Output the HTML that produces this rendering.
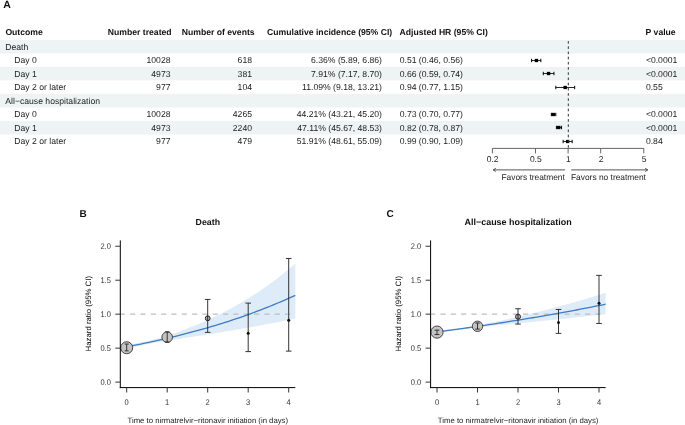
<!DOCTYPE html>
<html><head><meta charset="utf-8"><style>
html,body{margin:0;padding:0;background:#fff;}
body{width:685px;height:425px;overflow:hidden;}
svg{display:block;will-change:transform;}
text{font-family:"Liberation Sans",sans-serif;text-rendering:geometricPrecision;}
</style></head><body>
<svg width="685" height="425" viewBox="0 0 685 425">
<text x="3.20" y="7.60" font-size="10.5" font-weight="bold" text-anchor="start" fill="#111" >A</text>
<rect x="0" y="39.90" width="685" height="13.5" fill="#eef3f3"/>
<rect x="0" y="66.90" width="685" height="13.5" fill="#eef3f3"/>
<rect x="0" y="93.90" width="685" height="13.5" fill="#eef3f3"/>
<rect x="0" y="120.90" width="685" height="13.5" fill="#eef3f3"/>
<text x="5.40" y="35.30" font-size="8.65" font-weight="bold" text-anchor="start" fill="#111" >Outcome</text>
<text x="171.60" y="35.30" font-size="8.65" font-weight="bold" text-anchor="end" fill="#111" >Number treated</text>
<text x="254.60" y="35.30" font-size="8.65" font-weight="bold" text-anchor="end" fill="#111" >Number of events</text>
<text x="392.20" y="35.30" font-size="8.65" font-weight="bold" text-anchor="end" fill="#111" >Cumulative incidence (95% CI)</text>
<text x="399.60" y="35.30" font-size="8.65" font-weight="bold" text-anchor="start" fill="#111" >Adjusted HR (95% CI)</text>
<text x="645.60" y="35.30" font-size="8.65" font-weight="bold" text-anchor="start" fill="#111" >P value</text>
<text x="5.30" y="49.75" font-size="8.65" text-anchor="start" fill="#222" >Death</text>
<text x="14.30" y="63.25" font-size="8.65" text-anchor="start" fill="#222" >Day 0</text>
<text x="170.50" y="63.25" font-size="8.65" text-anchor="end" fill="#222" >10028</text>
<text x="252.00" y="63.25" font-size="8.65" text-anchor="end" fill="#222" >618</text>
<text x="382.00" y="63.25" font-size="8.65" text-anchor="end" fill="#222" >6.36% (5.89, 6.86)</text>
<text x="399.70" y="63.25" font-size="8.65" text-anchor="start" fill="#222" >0.51 (0.46, 0.56)</text>
<text x="645.90" y="63.25" font-size="8.65" text-anchor="start" fill="#222" >&lt;0.0001</text>
<line x1="531.58" y1="60.50" x2="540.83" y2="60.50" stroke="#222" stroke-width="0.95"/>
<line x1="531.58" y1="58.80" x2="531.58" y2="62.20" stroke="#000" stroke-width="1"/>
<line x1="540.83" y1="58.80" x2="540.83" y2="62.20" stroke="#000" stroke-width="1"/>
<rect x="534.73" y="58.85" width="3.4" height="3.3" fill="#000"/>
<text x="14.30" y="76.75" font-size="8.65" text-anchor="start" fill="#222" >Day 1</text>
<text x="170.50" y="76.75" font-size="8.65" text-anchor="end" fill="#222" >4973</text>
<text x="252.00" y="76.75" font-size="8.65" text-anchor="end" fill="#222" >381</text>
<text x="382.00" y="76.75" font-size="8.65" text-anchor="end" fill="#222" >7.91% (7.17, 8.70)</text>
<text x="399.70" y="76.75" font-size="8.65" text-anchor="start" fill="#222" >0.66 (0.59, 0.74)</text>
<text x="645.90" y="76.75" font-size="8.65" text-anchor="start" fill="#222" >&lt;0.0001</text>
<line x1="543.29" y1="73.50" x2="553.94" y2="73.50" stroke="#222" stroke-width="0.95"/>
<line x1="543.29" y1="71.80" x2="543.29" y2="75.20" stroke="#000" stroke-width="1"/>
<line x1="553.94" y1="71.80" x2="553.94" y2="75.20" stroke="#000" stroke-width="1"/>
<rect x="546.86" y="71.85" width="3.4" height="3.3" fill="#000"/>
<text x="14.30" y="90.25" font-size="8.65" text-anchor="start" fill="#222" >Day 2 or later</text>
<text x="170.50" y="90.25" font-size="8.65" text-anchor="end" fill="#222" >977</text>
<text x="252.00" y="90.25" font-size="8.65" text-anchor="end" fill="#222" >104</text>
<text x="382.00" y="90.25" font-size="8.65" text-anchor="end" fill="#222" >11.09% (9.18, 13.21)</text>
<text x="399.70" y="90.25" font-size="8.65" text-anchor="start" fill="#222" >0.94 (0.77, 1.15)</text>
<text x="645.90" y="90.25" font-size="8.65" text-anchor="start" fill="#222" >0.55</text>
<line x1="555.81" y1="87.50" x2="574.67" y2="87.50" stroke="#222" stroke-width="0.95"/>
<line x1="555.81" y1="85.80" x2="555.81" y2="89.20" stroke="#000" stroke-width="1"/>
<line x1="574.67" y1="85.80" x2="574.67" y2="89.20" stroke="#000" stroke-width="1"/>
<rect x="563.49" y="85.85" width="3.4" height="3.3" fill="#000"/>
<text x="5.30" y="103.75" font-size="8.65" text-anchor="start" fill="#222" >All&#8722;cause hospitalization</text>
<text x="14.30" y="117.25" font-size="8.65" text-anchor="start" fill="#222" >Day 0</text>
<text x="170.50" y="117.25" font-size="8.65" text-anchor="end" fill="#222" >10028</text>
<text x="252.00" y="117.25" font-size="8.65" text-anchor="end" fill="#222" >4265</text>
<text x="382.00" y="117.25" font-size="8.65" text-anchor="end" fill="#222" >44.21% (43.21, 45.20)</text>
<text x="399.70" y="117.25" font-size="8.65" text-anchor="start" fill="#222" >0.73 (0.70, 0.77)</text>
<text x="645.90" y="117.25" font-size="8.65" text-anchor="start" fill="#222" >&lt;0.0001</text>
<line x1="551.33" y1="114.50" x2="555.81" y2="114.50" stroke="#222" stroke-width="0.95"/>
<line x1="551.33" y1="112.80" x2="551.33" y2="116.20" stroke="#000" stroke-width="1"/>
<line x1="555.81" y1="112.80" x2="555.81" y2="116.20" stroke="#000" stroke-width="1"/>
<rect x="551.60" y="112.85" width="3.4" height="3.3" fill="#000"/>
<text x="14.30" y="130.75" font-size="8.65" text-anchor="start" fill="#222" >Day 1</text>
<text x="170.50" y="130.75" font-size="8.65" text-anchor="end" fill="#222" >4973</text>
<text x="252.00" y="130.75" font-size="8.65" text-anchor="end" fill="#222" >2240</text>
<text x="382.00" y="130.75" font-size="8.65" text-anchor="end" fill="#222" >47.11% (45.67, 48.53)</text>
<text x="399.70" y="130.75" font-size="8.65" text-anchor="start" fill="#222" >0.82 (0.78, 0.87)</text>
<text x="645.90" y="130.75" font-size="8.65" text-anchor="start" fill="#222" >&lt;0.0001</text>
<line x1="556.41" y1="127.50" x2="561.55" y2="127.50" stroke="#222" stroke-width="0.95"/>
<line x1="556.41" y1="125.80" x2="556.41" y2="129.20" stroke="#000" stroke-width="1"/>
<line x1="561.55" y1="125.80" x2="561.55" y2="129.20" stroke="#000" stroke-width="1"/>
<rect x="557.07" y="125.85" width="3.4" height="3.3" fill="#000"/>
<text x="14.30" y="144.25" font-size="8.65" text-anchor="start" fill="#222" >Day 2 or later</text>
<text x="170.50" y="144.25" font-size="8.65" text-anchor="end" fill="#222" >977</text>
<text x="252.00" y="144.25" font-size="8.65" text-anchor="end" fill="#222" >479</text>
<text x="382.00" y="144.25" font-size="8.65" text-anchor="end" fill="#222" >51.91% (48.61, 55.09)</text>
<text x="399.70" y="144.25" font-size="8.65" text-anchor="start" fill="#222" >0.99 (0.90, 1.09)</text>
<text x="645.90" y="144.25" font-size="8.65" text-anchor="start" fill="#222" >0.84</text>
<line x1="563.14" y1="141.50" x2="572.15" y2="141.50" stroke="#222" stroke-width="0.95"/>
<line x1="563.14" y1="139.80" x2="563.14" y2="143.20" stroke="#000" stroke-width="1"/>
<line x1="572.15" y1="139.80" x2="572.15" y2="143.20" stroke="#000" stroke-width="1"/>
<rect x="565.93" y="139.85" width="3.4" height="3.3" fill="#000"/>
<line x1="568.30" y1="41.10" x2="568.30" y2="148" stroke="#333" stroke-width="1" stroke-dasharray="2.6 2.6"/>
<line x1="492.41" y1="148.4" x2="643.79" y2="148.4" stroke="#555" stroke-width="0.9"/>
<line x1="492.41" y1="148.4" x2="492.41" y2="153.4" stroke="#555" stroke-width="0.9"/>
<text x="492.71" y="161.80" font-size="8.5" text-anchor="middle" fill="#222" >0.2</text>
<line x1="535.50" y1="148.4" x2="535.50" y2="153.4" stroke="#555" stroke-width="0.9"/>
<text x="535.80" y="161.80" font-size="8.5" text-anchor="middle" fill="#222" >0.5</text>
<line x1="568.10" y1="148.4" x2="568.10" y2="153.4" stroke="#555" stroke-width="0.9"/>
<text x="568.40" y="161.80" font-size="8.5" text-anchor="middle" fill="#222" >1</text>
<line x1="600.70" y1="148.4" x2="600.70" y2="153.4" stroke="#555" stroke-width="0.9"/>
<text x="601.00" y="161.80" font-size="8.5" text-anchor="middle" fill="#222" >2</text>
<line x1="643.79" y1="148.4" x2="643.79" y2="153.4" stroke="#555" stroke-width="0.9"/>
<text x="644.09" y="161.80" font-size="8.5" text-anchor="middle" fill="#222" >5</text>
<line x1="565.10" y1="169.9" x2="493.20" y2="169.9" stroke="#555" stroke-width="1"/>
<polyline points="495.80,168.3 493.20,169.9 495.80,171.5" fill="none" stroke="#444" stroke-width="0.9"/>
<line x1="571.20" y1="169.9" x2="647.80" y2="169.9" stroke="#555" stroke-width="1"/>
<polyline points="645.20,168.3 647.80,169.9 645.20,171.5" fill="none" stroke="#444" stroke-width="0.9"/>
<text x="564.80" y="180.10" font-size="8.4" text-anchor="end" fill="#222" >Favors treatment</text>
<text x="571.00" y="180.10" font-size="8.4" text-anchor="start" fill="#222" >Favors no treatment</text>
<text x="79.40" y="217.10" font-size="10" font-weight="bold" text-anchor="start" fill="#111" >B</text>
<text x="207.80" y="224.90" font-size="8.8" font-weight="bold" text-anchor="middle" fill="#111" >Death</text>
<polygon points="126.70,344.70 129.51,344.29 132.32,343.86 135.13,343.42 137.94,342.95 140.75,342.44 143.56,341.90 146.37,341.32 149.18,340.69 151.99,340.02 154.80,339.30 157.61,338.54 160.42,337.75 163.23,336.91 166.04,336.04 168.85,335.15 171.66,334.22 174.47,333.26 177.28,332.28 180.09,331.28 182.90,330.24 185.71,329.18 188.52,328.10 191.33,326.99 194.14,325.85 196.95,324.69 199.76,323.50 202.57,322.29 205.38,321.05 208.19,319.78 211.00,318.48 213.81,317.16 216.62,315.80 219.43,314.42 222.24,313.01 225.05,311.56 227.86,310.09 230.67,308.58 233.48,307.05 236.29,305.48 239.10,303.87 241.91,302.24 244.72,300.56 247.53,298.85 250.34,297.11 253.15,295.33 255.96,293.51 258.77,291.65 261.58,289.76 264.39,287.82 267.20,285.84 270.01,283.82 272.82,281.76 275.63,279.65 278.44,277.50 281.25,275.31 284.06,273.06 286.87,270.77 289.68,268.44 292.49,266.05 295.30,263.61 295.30,318.50 292.49,319.08 289.68,319.65 286.87,320.22 284.06,320.79 281.25,321.35 278.44,321.91 275.63,322.46 272.82,323.01 270.01,323.55 267.20,324.08 264.39,324.62 261.58,325.14 258.77,325.67 255.96,326.18 253.15,326.70 250.34,327.21 247.53,327.71 244.72,328.21 241.91,328.71 239.10,329.20 236.29,329.69 233.48,330.17 230.67,330.65 227.86,331.12 225.05,331.60 222.24,332.06 219.43,332.53 216.62,332.99 213.81,333.45 211.00,333.90 208.19,334.35 205.38,334.80 202.57,335.24 199.76,335.68 196.95,336.12 194.14,336.56 191.33,336.99 188.52,337.42 185.71,337.85 182.90,338.28 180.09,338.71 177.28,339.14 174.47,339.57 171.66,340.00 168.85,340.44 166.04,340.88 163.23,341.33 160.42,341.79 157.61,342.26 154.80,342.75 151.99,343.27 149.18,343.80 146.37,344.36 143.56,344.94 140.75,345.55 137.94,346.17 135.13,346.81 132.32,347.45 129.51,348.10 126.70,348.74" fill="#deebf8"/>
<line x1="120.30" y1="314.17" x2="295.30" y2="314.17" stroke="#bdbdbd" stroke-width="1.1" stroke-dasharray="5.1 5.23" stroke-dashoffset="0.5"/>
<polyline points="126.70,346.78 129.51,346.24 132.32,345.70 135.13,345.15 137.94,344.59 140.75,344.03 143.56,343.45 146.37,342.87 149.18,342.28 151.99,341.68 154.80,341.07 157.61,340.45 160.42,339.82 163.23,339.18 166.04,338.53 168.85,337.87 171.66,337.20 174.47,336.53 177.28,335.84 180.09,335.14 182.90,334.43 185.71,333.71 188.52,332.98 191.33,332.24 194.14,331.49 196.95,330.72 199.76,329.95 202.57,329.16 205.38,328.36 208.19,327.55 211.00,326.72 213.81,325.89 216.62,325.04 219.43,324.18 222.24,323.30 225.05,322.41 227.86,321.51 230.67,320.60 233.48,319.67 236.29,318.73 239.10,317.77 241.91,316.80 244.72,315.81 247.53,314.81 250.34,313.80 253.15,312.76 255.96,311.72 258.77,310.66 261.58,309.58 264.39,308.48 267.20,307.37 270.01,306.24 272.82,305.10 275.63,303.93 278.44,302.75 281.25,301.55 284.06,300.34 286.87,299.10 289.68,297.85 292.49,296.58 295.30,295.29" fill="none" stroke="#3d7cc6" stroke-width="1.3"/>
<circle cx="126.70" cy="347.73" r="6" fill="#c4c4c4" stroke="#333" stroke-width="0.9"/>
<line x1="126.70" y1="350.85" x2="126.70" y2="344.06" stroke="#2a2a2a" stroke-width="0.95"/>
<line x1="124.70" y1="350.85" x2="128.70" y2="350.85" stroke="#2a2a2a" stroke-width="0.95"/>
<line x1="124.70" y1="344.06" x2="128.70" y2="344.06" stroke="#2a2a2a" stroke-width="0.95"/>
<circle cx="167.20" cy="337.20" r="5.3" fill="#c4c4c4" stroke="#333" stroke-width="0.9"/>
<line x1="167.20" y1="342.02" x2="167.20" y2="331.83" stroke="#2a2a2a" stroke-width="0.95"/>
<line x1="164.95" y1="342.02" x2="169.45" y2="342.02" stroke="#2a2a2a" stroke-width="0.95"/>
<line x1="164.95" y1="331.83" x2="169.45" y2="331.83" stroke="#2a2a2a" stroke-width="0.95"/>
<line x1="207.70" y1="332.38" x2="207.70" y2="299.43" stroke="#2a2a2a" stroke-width="0.95"/>
<line x1="204.90" y1="332.38" x2="210.50" y2="332.38" stroke="#2a2a2a" stroke-width="0.95"/>
<line x1="204.90" y1="299.43" x2="210.50" y2="299.43" stroke="#2a2a2a" stroke-width="0.95"/>
<circle cx="207.70" cy="318.31" r="2.4" fill="#b8b8b8" stroke="#222" stroke-width="1"/>
<line x1="207.70" y1="315.91" x2="207.70" y2="320.71" stroke="#222" stroke-width="1"/>
<line x1="248.20" y1="351.60" x2="248.20" y2="303.10" stroke="#2a2a2a" stroke-width="0.95"/>
<line x1="245.40" y1="351.60" x2="251.00" y2="351.60" stroke="#2a2a2a" stroke-width="0.95"/>
<line x1="245.40" y1="303.10" x2="251.00" y2="303.10" stroke="#2a2a2a" stroke-width="0.95"/>
<circle cx="248.20" cy="333.33" r="1.5" fill="#111"/>
<line x1="288.70" y1="351.12" x2="288.70" y2="258.47" stroke="#2a2a2a" stroke-width="0.95"/>
<line x1="285.90" y1="351.12" x2="291.50" y2="351.12" stroke="#2a2a2a" stroke-width="0.95"/>
<line x1="285.90" y1="258.47" x2="291.50" y2="258.47" stroke="#2a2a2a" stroke-width="0.95"/>
<circle cx="288.70" cy="320.28" r="1.5" fill="#111"/>
<line x1="120.30" y1="240.4" x2="120.30" y2="388.1" stroke="#000" stroke-width="1"/>
<line x1="119.80" y1="387.6" x2="295.30" y2="387.6" stroke="#000" stroke-width="1"/>
<line x1="115.30" y1="382.10" x2="120.30" y2="382.10" stroke="#333" stroke-width="1"/>
<text x="110.90" y="384.80" font-size="7.5" text-anchor="end" fill="#333" transform="translate(0,382.10) scale(1,1.1) translate(0,-382.10)">0.0</text>
<line x1="115.30" y1="348.13" x2="120.30" y2="348.13" stroke="#333" stroke-width="1"/>
<text x="110.90" y="350.83" font-size="7.5" text-anchor="end" fill="#333" transform="translate(0,348.13) scale(1,1.1) translate(0,-348.13)">0.5</text>
<line x1="115.30" y1="314.17" x2="120.30" y2="314.17" stroke="#333" stroke-width="1"/>
<text x="110.90" y="316.87" font-size="7.5" text-anchor="end" fill="#333" transform="translate(0,314.17) scale(1,1.1) translate(0,-314.17)">1.0</text>
<line x1="115.30" y1="280.21" x2="120.30" y2="280.21" stroke="#333" stroke-width="1"/>
<text x="110.90" y="282.91" font-size="7.5" text-anchor="end" fill="#333" transform="translate(0,280.21) scale(1,1.1) translate(0,-280.21)">1.5</text>
<line x1="115.30" y1="246.24" x2="120.30" y2="246.24" stroke="#333" stroke-width="1"/>
<text x="110.90" y="248.94" font-size="7.5" text-anchor="end" fill="#333" transform="translate(0,246.24) scale(1,1.1) translate(0,-246.24)">2.0</text>
<line x1="126.70" y1="387.6" x2="126.70" y2="392.5" stroke="#333" stroke-width="1"/>
<text x="126.70" y="404.70" font-size="7.5" text-anchor="middle" fill="#333" transform="translate(0,402.0) scale(1,1.1) translate(0,-402.0)">0</text>
<line x1="167.20" y1="387.6" x2="167.20" y2="392.5" stroke="#333" stroke-width="1"/>
<text x="167.20" y="404.70" font-size="7.5" text-anchor="middle" fill="#333" transform="translate(0,402.0) scale(1,1.1) translate(0,-402.0)">1</text>
<line x1="207.70" y1="387.6" x2="207.70" y2="392.5" stroke="#333" stroke-width="1"/>
<text x="207.70" y="404.70" font-size="7.5" text-anchor="middle" fill="#333" transform="translate(0,402.0) scale(1,1.1) translate(0,-402.0)">2</text>
<line x1="248.20" y1="387.6" x2="248.20" y2="392.5" stroke="#333" stroke-width="1"/>
<text x="248.20" y="404.70" font-size="7.5" text-anchor="middle" fill="#333" transform="translate(0,402.0) scale(1,1.1) translate(0,-402.0)">3</text>
<line x1="288.70" y1="387.6" x2="288.70" y2="392.5" stroke="#333" stroke-width="1"/>
<text x="288.70" y="404.70" font-size="7.5" text-anchor="middle" fill="#333" transform="translate(0,402.0) scale(1,1.1) translate(0,-402.0)">4</text>
<text x="207.80" y="423.10" font-size="7.76" text-anchor="middle" fill="#222" >Time to nirmatrelvir&#8722;ritonavir initiation (in days)</text>
<text x="0" y="0" font-size="7.8" text-anchor="middle" transform="translate(90.90,313.70) rotate(-90)">Hazard ratio (95% CI)</text>
<text x="386.60" y="217.10" font-size="10" font-weight="bold" text-anchor="start" fill="#111" >C</text>
<text x="518.10" y="224.90" font-size="8.95" font-weight="bold" text-anchor="middle" fill="#111" >All&#8722;cause hospitalization</text>
<polygon points="437.00,330.48 439.81,330.22 442.62,329.96 445.43,329.69 448.24,329.41 451.05,329.12 453.86,328.81 456.67,328.49 459.48,328.15 462.29,327.78 465.10,327.38 467.91,326.95 470.72,326.49 473.53,326.00 476.34,325.50 479.15,324.98 481.96,324.44 484.77,323.89 487.58,323.33 490.39,322.76 493.20,322.18 496.01,321.59 498.82,321.00 501.63,320.39 504.44,319.78 507.25,319.16 510.06,318.54 512.87,317.90 515.68,317.26 518.49,316.62 521.30,315.96 524.11,315.30 526.92,314.63 529.73,313.96 532.54,313.28 535.35,312.59 538.16,311.89 540.97,311.19 543.78,310.47 546.59,309.76 549.40,309.03 552.21,308.30 555.02,307.55 557.83,306.81 560.64,306.05 563.45,305.28 566.26,304.51 569.07,303.73 571.88,302.95 574.69,302.15 577.50,301.35 580.31,300.53 583.12,299.71 585.93,298.88 588.74,298.05 591.55,297.20 594.36,296.35 597.17,295.48 599.98,294.61 602.79,293.73 605.60,292.84 605.60,314.15 602.79,314.47 599.98,314.79 597.17,315.10 594.36,315.41 591.55,315.72 588.74,316.03 585.93,316.34 583.12,316.65 580.31,316.95 577.50,317.26 574.69,317.56 571.88,317.86 569.07,318.16 566.26,318.46 563.45,318.76 560.64,319.05 557.83,319.35 555.02,319.64 552.21,319.93 549.40,320.22 546.59,320.51 543.78,320.80 540.97,321.09 538.16,321.37 535.35,321.66 532.54,321.94 529.73,322.23 526.92,322.51 524.11,322.79 521.30,323.07 518.49,323.35 515.68,323.63 512.87,323.91 510.06,324.18 507.25,324.46 504.44,324.74 501.63,325.01 498.82,325.29 496.01,325.56 493.20,325.84 490.39,326.12 487.58,326.40 484.77,326.68 481.96,326.97 479.15,327.26 476.34,327.56 473.53,327.88 470.72,328.20 467.91,328.54 465.10,328.91 462.29,329.30 459.48,329.71 456.67,330.14 453.86,330.59 451.05,331.05 448.24,331.52 445.43,331.99 442.62,332.46 439.81,332.94 437.00,333.41" fill="#deebf8"/>
<line x1="430.60" y1="314.17" x2="605.60" y2="314.17" stroke="#bdbdbd" stroke-width="1.1" stroke-dasharray="5.1 5.23" stroke-dashoffset="0.5"/>
<polyline points="437.00,331.97 439.81,331.60 442.62,331.23 445.43,330.85 448.24,330.47 451.05,330.09 453.86,329.71 456.67,329.32 459.48,328.94 462.29,328.54 465.10,328.15 467.91,327.75 470.72,327.35 473.53,326.95 476.34,326.54 479.15,326.13 481.96,325.72 484.77,325.30 487.58,324.89 490.39,324.46 493.20,324.04 496.01,323.61 498.82,323.18 501.63,322.75 504.44,322.31 507.25,321.87 510.06,321.43 512.87,320.98 515.68,320.53 518.49,320.07 521.30,319.62 524.11,319.16 526.92,318.69 529.73,318.23 532.54,317.76 535.35,317.28 538.16,316.80 540.97,316.32 543.78,315.84 546.59,315.35 549.40,314.86 552.21,314.36 555.02,313.86 557.83,313.36 560.64,312.85 563.45,312.34 566.26,311.83 569.07,311.31 571.88,310.79 574.69,310.27 577.50,309.74 580.31,309.20 583.12,308.67 585.93,308.13 588.74,307.58 591.55,307.03 594.36,306.48 597.17,305.92 599.98,305.36 602.79,304.79 605.60,304.22" fill="none" stroke="#3d7cc6" stroke-width="1.3"/>
<circle cx="437.00" cy="332.10" r="6.1" fill="#c4c4c4" stroke="#333" stroke-width="0.9"/>
<line x1="437.00" y1="334.55" x2="437.00" y2="330.13" stroke="#2a2a2a" stroke-width="0.95"/>
<line x1="434.60" y1="334.55" x2="439.40" y2="334.55" stroke="#2a2a2a" stroke-width="0.95"/>
<line x1="434.60" y1="330.13" x2="439.40" y2="330.13" stroke="#2a2a2a" stroke-width="0.95"/>
<circle cx="477.50" cy="326.30" r="5.2" fill="#c4c4c4" stroke="#333" stroke-width="0.9"/>
<line x1="477.50" y1="329.11" x2="477.50" y2="323.00" stroke="#2a2a2a" stroke-width="0.95"/>
<line x1="475.25" y1="329.11" x2="479.75" y2="329.11" stroke="#2a2a2a" stroke-width="0.95"/>
<line x1="475.25" y1="323.00" x2="479.75" y2="323.00" stroke="#2a2a2a" stroke-width="0.95"/>
<line x1="518.00" y1="324.09" x2="518.00" y2="308.74" stroke="#2a2a2a" stroke-width="0.95"/>
<line x1="515.20" y1="324.09" x2="520.80" y2="324.09" stroke="#2a2a2a" stroke-width="0.95"/>
<line x1="515.20" y1="308.74" x2="520.80" y2="308.74" stroke="#2a2a2a" stroke-width="0.95"/>
<circle cx="518.00" cy="316.68" r="2.5" fill="#b8b8b8" stroke="#222" stroke-width="1"/>
<line x1="518.00" y1="314.18" x2="518.00" y2="319.18" stroke="#222" stroke-width="1"/>
<line x1="558.50" y1="333.39" x2="558.50" y2="309.48" stroke="#2a2a2a" stroke-width="0.95"/>
<line x1="555.70" y1="333.39" x2="561.30" y2="333.39" stroke="#2a2a2a" stroke-width="0.95"/>
<line x1="555.70" y1="309.48" x2="561.30" y2="309.48" stroke="#2a2a2a" stroke-width="0.95"/>
<circle cx="558.50" cy="322.59" r="1.5" fill="#111"/>
<line x1="599.00" y1="323.48" x2="599.00" y2="275.38" stroke="#2a2a2a" stroke-width="0.95"/>
<line x1="596.20" y1="323.48" x2="601.80" y2="323.48" stroke="#2a2a2a" stroke-width="0.95"/>
<line x1="596.20" y1="275.38" x2="601.80" y2="275.38" stroke="#2a2a2a" stroke-width="0.95"/>
<circle cx="599.00" cy="303.23" r="1.5" fill="#111"/>
<line x1="430.60" y1="240.4" x2="430.60" y2="388.1" stroke="#000" stroke-width="1"/>
<line x1="430.10" y1="387.6" x2="605.60" y2="387.6" stroke="#000" stroke-width="1"/>
<line x1="425.60" y1="382.10" x2="430.60" y2="382.10" stroke="#333" stroke-width="1"/>
<text x="421.20" y="384.80" font-size="7.5" text-anchor="end" fill="#333" transform="translate(0,382.10) scale(1,1.1) translate(0,-382.10)">0.0</text>
<line x1="425.60" y1="348.13" x2="430.60" y2="348.13" stroke="#333" stroke-width="1"/>
<text x="421.20" y="350.83" font-size="7.5" text-anchor="end" fill="#333" transform="translate(0,348.13) scale(1,1.1) translate(0,-348.13)">0.5</text>
<line x1="425.60" y1="314.17" x2="430.60" y2="314.17" stroke="#333" stroke-width="1"/>
<text x="421.20" y="316.87" font-size="7.5" text-anchor="end" fill="#333" transform="translate(0,314.17) scale(1,1.1) translate(0,-314.17)">1.0</text>
<line x1="425.60" y1="280.21" x2="430.60" y2="280.21" stroke="#333" stroke-width="1"/>
<text x="421.20" y="282.91" font-size="7.5" text-anchor="end" fill="#333" transform="translate(0,280.21) scale(1,1.1) translate(0,-280.21)">1.5</text>
<line x1="425.60" y1="246.24" x2="430.60" y2="246.24" stroke="#333" stroke-width="1"/>
<text x="421.20" y="248.94" font-size="7.5" text-anchor="end" fill="#333" transform="translate(0,246.24) scale(1,1.1) translate(0,-246.24)">2.0</text>
<line x1="437.00" y1="387.6" x2="437.00" y2="392.5" stroke="#333" stroke-width="1"/>
<text x="437.00" y="404.70" font-size="7.5" text-anchor="middle" fill="#333" transform="translate(0,402.0) scale(1,1.1) translate(0,-402.0)">0</text>
<line x1="477.50" y1="387.6" x2="477.50" y2="392.5" stroke="#333" stroke-width="1"/>
<text x="477.50" y="404.70" font-size="7.5" text-anchor="middle" fill="#333" transform="translate(0,402.0) scale(1,1.1) translate(0,-402.0)">1</text>
<line x1="518.00" y1="387.6" x2="518.00" y2="392.5" stroke="#333" stroke-width="1"/>
<text x="518.00" y="404.70" font-size="7.5" text-anchor="middle" fill="#333" transform="translate(0,402.0) scale(1,1.1) translate(0,-402.0)">2</text>
<line x1="558.50" y1="387.6" x2="558.50" y2="392.5" stroke="#333" stroke-width="1"/>
<text x="558.50" y="404.70" font-size="7.5" text-anchor="middle" fill="#333" transform="translate(0,402.0) scale(1,1.1) translate(0,-402.0)">3</text>
<line x1="599.00" y1="387.6" x2="599.00" y2="392.5" stroke="#333" stroke-width="1"/>
<text x="599.00" y="404.70" font-size="7.5" text-anchor="middle" fill="#333" transform="translate(0,402.0) scale(1,1.1) translate(0,-402.0)">4</text>
<text x="518.10" y="423.10" font-size="7.76" text-anchor="middle" fill="#222" >Time to nirmatrelvir&#8722;ritonavir initiation (in days)</text>
<text x="0" y="0" font-size="7.8" text-anchor="middle" transform="translate(401.20,313.70) rotate(-90)">Hazard ratio (95% CI)</text>
</svg>
</body></html>
